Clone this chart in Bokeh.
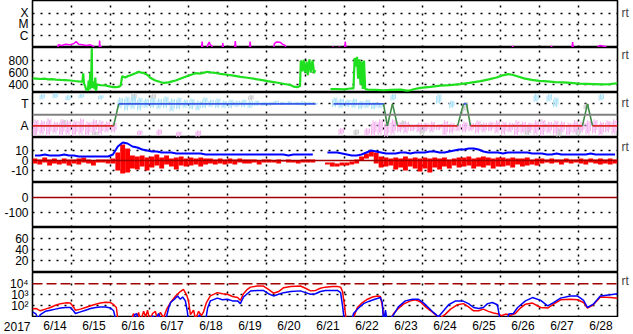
import numpy as np
from bokeh.plotting import figure
from bokeh.layouts import column
from bokeh.models import Range1d, FixedTicker, LinearAxis, Grid, Span
from bokeh.core.properties import value
from bokeh.embed import file_html
from bokeh.resources import INLINE

nan = float("nan")
FONT = "Liberation Sans"

# ---------------- x axis (days since 2017-06-14 00:00) ----------------
day_labels = ["6/14", "6/15", "6/16", "6/17", "6/18", "6/19", "6/20", "6/21",
              "6/22", "6/23", "6/24", "6/25", "6/26", "6/27", "6/28"]
year_label = "2017"
day_bounds = list(range(1, 15))

# ---------------- panel 1: X-ray class (log10 flux) ----------------
xray_ticks = [-6, -5, -4]
xray_labels = ["C", "M", "X"]
xray_t = [0.60, 0.64, 0.66, 0.75, 0.85, 0.95, 1.05, 1.12, 1.18, 1.28, 1.38, 1.48, 1.55, 1.60,
          1.71, 1.72, 1.73, 1.76, 1.77,
          4.33, 4.35, 4.37, 4.47, 4.49, 4.53, 4.56, 4.60, 4.62,
          4.86, 4.88, 4.90, 5.18, 5.20, 5.22, 5.56, 5.58, 5.60,
          6.18, 6.20, 6.25, 6.35, 6.42, 6.48, 6.50,
          7.68, 7.70, 7.75, 7.85, 7.87, 7.90, 8.00, 8.02, 8.04,
          12.29, 12.31, 12.33, 13.29, 13.31, 13.33, 13.83, 13.85, 13.86, 13.88,
          14.49, 14.51, 14.56, 14.62, 14.70, 14.72]
xray_v = [-7.3, -7.3, -6.85, -6.9, -6.8, -6.85, -6.75, -6.55, -6.8, -6.85, -6.9, -6.85, -6.95, -7.3,
          -7.3, -6.45, -7.0, -7.0, -7.3,
          -7.3, -6.55, -7.3, -7.3, -6.9, -6.6, -6.85, -6.95, -7.3,
          -7.3, -6.7, -7.3, -7.3, -6.5, -7.3, -7.3, -6.55, -7.3,
          -7.3, -6.75, -6.6, -6.62, -6.8, -6.9, -7.3,
          -7.3, -7.0, -7.3, -7.3, -7.0, -7.3, -7.3, -6.55, -7.3,
          -7.3, -6.95, -7.3, -7.3, -6.95, -7.3, -7.3, -6.6, -6.95, -7.3,
          -7.3, -6.95, -6.9, -6.95, -7.0, -7.3]

# ---------------- panel 2: solar wind speed ----------------
speed_ticks = [400, 600, 800]
speed_t = [0.00, 0.10, 0.20, 0.30, 0.40, 0.50, 0.60, 0.72, 0.85, 0.97, 1.08, 1.18, 1.28,
           1.30, 1.32, 1.35, 1.38, 1.40, 1.42, 1.44, 1.46, 1.48, 1.50, 1.52, 1.53, 1.55,
           1.57, 1.59, 1.61, 1.63, 1.65, 1.68, 1.74, 1.87, 2.00, 2.08, 2.13, 2.20, 2.26,
           2.30, 2.38, 2.45, 2.51, 2.58, 2.64, 2.72, 2.79, 2.85, 2.95, 3.03, 3.15, 3.28,
           3.36, 3.42, 3.49, 3.58, 3.67, 3.77, 3.87, 3.96, 4.05, 4.18, 4.31, 4.40, 4.49,
           4.56, 4.64, 4.73, 4.82, 5.00, 5.15, 5.33, 5.51, 5.67, 5.85, 6.03, 6.18, 6.36,
           6.54, 6.62, 6.69, 6.79, 6.86, 6.88, 6.92, 6.95, 6.99, 7.03, 7.06, 7.10, 7.14,
           7.18, 7.22, 7.25, 7.27, 7.64, 7.80, 8.00, 8.10, 8.20, 8.23, 8.26, 8.29, 8.32,
           8.35, 8.38, 8.41, 8.44, 8.47, 8.50, 8.53, 8.60, 8.80, 9.00, 9.20, 9.44, 9.60,
           9.69, 9.80, 9.95, 10.20, 10.46, 10.70, 10.97, 11.20, 11.49, 11.70, 11.90, 12.05,
           12.20, 12.30, 12.45, 12.60, 12.80, 13.00, 13.20, 13.40, 13.60, 13.80, 14.00,
           14.20, 14.40, 14.60, 14.80, 15.00]
speed_v = [505, 500, 495, 500, 490, 492, 485, 480, 478, 470, 462, 455, 450,
           590, 420, 380, 310, 330, 300, 470, 320, 600, 340, 1000, 400, 350,
           450, 330, 520, 300, 390, 400, 395, 390, 370, 362, 360, 365, 385,
           540, 520, 545, 555, 575, 590, 615, 600, 595, 560, 510, 470, 445,
           430, 435, 440, 455, 470, 495, 520, 540, 560, 590, 585, 600, 615,
           605, 600, 590, 580, 565, 550, 530, 515, 500, 480, 460, 445, 425,
           405, 395, 370, 360, 380, 800, 620, 810, 600, 780, 560, 820, 600,
           800, 590, 640, nan, 330, 330, 325, 335, 340, 340, 840, 700, 860,
           500, 820, 400, 780, 330, 800, 330, 320, 315, 310, 315, 320, 305,
           310, 330, 350, 365, 385, 395, 410, 430, 460, 490, 520, 555,
           575, 565, 535, 505, 480, 465, 455, 445, 440, 430, 420,
           415, 410, 405, 410, 425]

# ---------------- panel 3: IMF sector (T / A), 4-hour bins ----------------
sector_ticks = [1, -1]
sector_labels = ["T", "A"]
lb_lo = [nan, 1.4, nan, 1.5, nan, 1.3,
         nan, 1.5, nan, nan, 1.4, nan,
         nan, 0.6, 0.4, 0.5, 0.4, 0.6,
         0.6, 0.5, 0.6, 0.3, 0.5, 0.6,
         0.5, 0.4, 0.6, 0.7, 0.6, 0.6,
         0.6, 0.7, 0.7, 0.6, 0.8, 0.8,
         0.8, 0.9, 0.9, 0.9, 0.9, 0.85,
         0.9, 0.9, nan, nan, 0.7, 0.6,
         0.7, 0.6, 0.5, 0.6, 0.5, 0.6,
         nan, 1.3, nan, nan, nan, nan,
         nan, nan, 1.0, nan, 0.6, nan,
         nan, nan, nan, nan, nan, nan,
         nan, nan, nan, nan, nan, 1.2,
         nan, 1.2, 0.7, nan, nan, nan,
         nan, nan, nan, 1.3, nan, nan]
lb_hi = [nan, 1.9, nan, 2.0, nan, 1.8,
         nan, 1.9, nan, nan, 1.8, nan,
         nan, 1.6, 1.7, 1.8, 1.6, 1.5,
         1.6, 1.5, 1.7, 1.5, 1.6, 1.4,
         1.5, 1.3, 1.6, 1.4, 1.5, 1.3,
         1.4, 1.3, 1.4, 1.3, 1.3, 1.2,
         1.2, 1.3, 1.2, 1.25, 1.2, 1.25,
         1.2, 1.1, nan, nan, 1.6, 1.5,
         1.4, 1.5, 1.3, 1.4, 1.2, 1.1,
         nan, 1.9, nan, nan, nan, nan,
         nan, nan, 1.9, nan, 1.3, nan,
         nan, nan, nan, nan, nan, nan,
         nan, nan, nan, nan, nan, 1.9,
         nan, 1.9, 1.6, nan, nan, nan,
         nan, nan, nan, 1.9, nan, nan]
pk_lo = [-1.9, -1.8, -1.9, -1.7, -1.9, -1.8,
         -1.9, -1.8, -1.9, -1.7, -1.8, -1.6,
         -1.6, nan, nan, nan, -1.9, nan,
         nan, -1.9, nan, nan, -2.0, nan,
         nan, -2.0, nan, nan, nan, nan,
         nan, nan, nan, nan, nan, nan,
         nan, nan, nan, nan, nan, nan,
         nan, nan, nan, nan, nan, -1.8,
         nan, nan, nan, -1.9, -1.9, -1.8,
         -2.0, -1.8, -1.6, -1.7, -1.5, -1.6,
         -1.5, -1.6, -1.4, -1.9, -1.7, -1.5,
         -1.6, -1.5, -1.7, -1.6, -1.5, -1.7,
         -1.8, -1.6, -1.9, -1.7, -1.6, -1.8,
         -1.9, -1.7, -1.8, -1.6, -1.9, -1.7,
         -1.6, -1.8, -1.7, -1.9, -1.6, -1.8]
pk_hi = [-0.4, -0.5, -0.3, -0.6, -0.4, -0.5,
         -0.5, -0.3, -0.6, -0.4, -0.5, -0.6,
         -0.7, nan, nan, nan, -1.4, nan,
         nan, -1.3, nan, nan, -1.5, nan,
         nan, -1.4, nan, nan, nan, nan,
         nan, nan, nan, nan, nan, nan,
         nan, nan, nan, nan, nan, nan,
         nan, nan, nan, nan, nan, -1.2,
         nan, nan, nan, -1.2, -0.5, -0.4,
         -0.5, -0.4, -0.7, -0.6, -0.8, -0.7,
         -0.7, -0.6, -0.8, -0.5, -0.7, -0.8,
         -0.6, -0.7, -0.5, -0.7, -0.6, -0.5,
         -0.6, -0.7, -0.5, -0.6, -0.7, -0.5,
         -0.4, -0.6, -0.5, -0.6, -0.7, -0.5,
         -0.6, -0.5, -0.4, -0.6, -0.5, -0.4]
gray_t = [0.05, 0.80, 1.60, 2.60, 3.10, 5.60, 8.30, 9.50, 10.00, 11.10, 12.70, 13.50, 14.00, 14.20]
gray_lo = [-1.9, -1.2, -1.9, 1.3, 1.4, 1.3, -1.9, -1.2, -1.8, 0.3, -1.9, -2.0, -1.9, 0.5]
gray_hi = [-1.1, -0.4, -1.5, 2.0, 1.9, 1.8, -1.3, -0.5, -1.0, 1.2, -0.9, -1.2, -1.1, 1.0]
sec_t = [0.0, 2.08, 2.21, 7.26, 7.27, 7.72, 9.0, 9.1, 9.23, 9.36, 10.9, 11.05, 11.13, 11.23,
         14.1, 14.23, 14.36, 15.0]
sec_v = [-1, -1, 1, 1, nan, 1, 1, -1, 1, -1, -1, 1, 1, -1, -1, 1, -1, -1]

# ---------------- panel 4: IMF Bt / Bz, 3-hour bins ----------------
bz_ticks = [10, 0, -10]
bz_lo = [-3, -4, -2, -5, -3, -4, -3, -5,
         -3, -4, -2, -3, -5, -2, -2, -3,
         -3, -10, -13, -12, -8, -9, -6, -10,
         -7, -5, -8, -4, -6, -9, -5, -6,
         -5, -4, -6, -4, -3, -4, -3, -4,
         -3, -4, -2, -3, -3, -2, -4, -2,
         -2, -2, -3, -1, -2, -2, -3, -2,
         -2, -2, nan, nan, -4, -6, -6, -5,
         -5, -4, -3, 0, 2, 4, -3, -7,
         -6, -5, -9, -7, -10, -6, -8, -11,
         -8, -12, -7, -9, -6, -8, -5, -7,
         -6, -5, -8, -6, -7, -5, -8, -6,
         -6, -5, -7, -4, -6, -5, -4, -5,
         -3, -2, -3, -2, -4, -2, -3, -2,
         -3, -4, -2, -3, -4, -3, -4, -3]
bz_hi = [2, 1, 3, 1, 2, 0, 2, 1,
         1, 2, 3, 1, 0, 1, 1, 1,
         2, 8, 16, 12, 5, 4, 5, 3,
         4, 6, 3, 5, 2, 3, 4, 2,
         3, 2, 3, 2, 2, 1, 2, 1,
         2, 1, 2, 1, 1, 1, 0, 1,
         1, 0, 1, 0, 1, 0, 0, 1,
         1, 1, nan, nan, -2, -2, -3, -2,
         -2, -1, 1, 4, 7, 10, 8, 4,
         3, 2, 3, 2, 4, 2, 3, 2,
         3, 2, 3, 2, 3, 1, 2, 3,
         3, 4, 2, 3, 4, 3, 2, 3,
         3, 2, 3, 2, 2, 3, 1, 2,
         2, 1, 2, 1, 1, 2, 1, 1,
         2, 1, 2, 1, 2, 1, 2, 1]
bt = [5, 5, 6, 5, 5, 5, 6, 5,
      5, 4, 4, 4, 4, 4, 4, 4,
      6, 14, 18, 17, 14, 13, 11, 10,
      9, 9, 8, 8, 8, 7, 7, 7,
      7, 7, 7, 6, 6, 6, 6, 6,
      6, 6, 6, 6, 6, 6, 6, 6,
      6, 6, 6, 6, 5, 6, 6, 6,
      6, 6, nan, nan, 8, 8, 8, 7,
      6, 5, 5, 6, 8, 10, 9, 8,
      7, 7, 7, 8, 8, 7, 8, 8,
      8, 9, 9, 8, 8, 9, 10, 11,
      11, 12, 12, 11, 9, 8, 8, 8,
      7, 8, 8, 8, 8, 8, 7, 7,
      7, 6, 6, 7, 6, 6, 6, 6,
      6, 6, 7, 6, 6, 6, 6, 6]

# ---------------- panel 5 / 6: empty panels ----------------
p5_ticks = [0, -100]
p6_ticks = [60, 40, 20]

# ---------------- panel 7: particle flux (log10) ----------------
flux_ticks = [4, 3, 2]
flux_labels = ["10\u2074", "10\u00b3", "10\u00b2"]
flux_threshold = 4
red_t = [0.00, 0.10, 0.20, 0.33, 0.46, 0.59, 0.72, 0.85, 0.97, 1.05, 1.10, 1.23, 1.36, 1.49,
         1.62, 1.74, 1.87, 2.00, 2.08, 2.15, 2.20, 2.51, 2.59, 2.64, 2.72, 2.77, 2.85, 2.90,
         2.95, 3.00, 3.08, 3.15, 3.20, 3.28, 3.36, 3.44, 3.54, 3.67, 3.79, 3.87, 3.95, 4.00,
         4.05, 4.13, 4.18, 4.26, 4.33, 4.38, 4.46, 4.56, 4.74, 4.87, 5.00, 5.13, 5.26, 5.33,
         5.41, 5.51, 5.59, 5.77, 5.92, 6.05, 6.18, 6.31, 6.44, 6.62, 6.87, 7.00, 7.13, 7.26,
         7.38, 7.51, 7.69, 7.82, 7.90, 7.95, 8.00, 8.05, 8.21, 8.26, 8.33, 8.46, 8.59, 8.72,
         8.85, 8.92, 8.97, 9.03, 9.18, 9.26, 9.36, 9.51, 9.69, 9.82, 9.95, 10.08, 10.21,
         10.33, 10.46, 10.59, 10.72, 10.90, 11.05, 11.18, 11.31, 11.44, 11.56, 11.69, 11.82,
         11.95, 12.03, 12.13, 12.26, 12.38, 12.51, 12.64, 12.82, 13.03, 13.21, 13.36, 13.54,
         13.79, 13.97, 14.13, 14.23, 14.38, 14.56, 14.82, 15.00]
red_v = [1.73, 1.75, 1.55, 1.70, 1.85, 2.05, 2.20, 2.27, 2.25, 1.90, 1.60, 1.70, 1.85, 2.00,
         2.15, 2.25, 2.33, 2.30, 2.10, 1.85, 0.50, 0.50, 1.30, 0.60, 1.40, 0.60, 1.50, 1.00,
         1.60, 0.70, 1.30, 1.50, 0.80, 1.40, 0.90, 1.70, 2.30, 2.90, 3.30, 3.50, 3.00, 2.45,
         1.20, 1.60, 0.80, 1.50, 1.10, 1.40, 2.30, 2.90, 3.20, 3.10, 3.05, 2.85, 2.75, 2.50,
         3.10, 3.50, 3.70, 3.80, 3.80, 3.50, 3.15, 3.30, 3.65, 3.75, 3.80, 3.60, 3.36, 3.40,
         3.60, 3.70, 3.75, 3.75, 3.70, 3.30, 2.00, 0.50, 0.60, 1.20, 1.85, 2.30, 2.60, 2.80,
         2.90, 2.85, 2.00, 0.50, 0.80, 1.30, 1.70, 2.15, 2.45, 2.55, 2.35, 1.90, 1.55,
         1.20, 0.90, 1.25, 1.70, 2.10, 2.20, 1.90, 1.55, 1.55, 1.70, 1.50, 1.35,
         1.25, 1.10, 1.25, 1.15, 1.30, 1.80, 2.15, 2.25, 1.85, 1.80, 2.15, 2.55,
         2.60, 2.55, 2.30, 1.80, 2.10, 2.80, 2.75, 2.70]
blue_t = [0.00, 0.08, 0.15, 0.20, 0.33, 0.46, 0.59, 0.72, 0.85, 0.97, 1.05, 1.10, 1.23, 1.36,
          1.49, 1.62, 1.74, 1.87, 2.00, 2.08, 2.15, 2.59, 2.62, 2.67, 2.72, 3.03, 3.08, 3.15,
          3.23, 3.31, 3.41, 3.49, 3.54, 3.64, 3.72, 3.79, 3.85, 3.92, 3.97, 4.00, 4.23, 4.28,
          4.33, 4.44, 4.49, 4.56, 4.74, 4.87, 5.00, 5.13, 5.26, 5.33, 5.41, 5.59, 5.77, 5.92,
          6.05, 6.18, 6.31, 6.44, 6.62, 6.87, 7.00, 7.13, 7.26, 7.38, 7.51, 7.69, 7.82, 7.90,
          7.95, 8.00, 8.18, 8.23, 8.36, 8.49, 8.62, 8.74, 8.92, 8.97, 9.00, 9.05, 9.10, 9.26,
          9.38, 9.56, 9.74, 9.90, 10.03, 10.15, 10.28, 10.41, 10.54, 10.67, 10.85, 11.03,
          11.18, 11.31, 11.44, 11.56, 11.67, 11.79, 11.92, 12.00, 12.15, 12.21, 12.33, 12.44,
          12.64, 12.82, 13.03, 13.21, 13.36, 13.54, 13.79, 13.97, 14.13, 14.23, 14.38, 14.56,
          14.82, 15.00]
blue_v = [1.45, 1.30, 0.80, 1.20, 1.50, 1.60, 1.70, 1.80, 1.85, 1.85, 1.55, 1.30, 1.45, 1.60,
          1.75, 1.85, 1.90, 1.90, 1.80, 1.55, 0.50, 0.50, 1.20, 1.30, 0.50, 0.50, 1.10, 0.60,
          1.30, 0.50, 0.60, 1.80, 2.30, 2.60, 2.90, 2.60, 2.80, 2.45, 1.50, 0.50, 0.50, 1.20,
          0.60, 0.70, 1.80, 2.45, 2.70, 2.55, 2.60, 2.45, 2.45, 2.20, 2.80, 3.35, 3.40, 3.40,
          3.10, 2.90, 3.05, 3.20, 3.30, 3.36, 3.20, 3.06, 3.10, 3.30, 3.40, 3.40, 3.40, 3.20,
          2.00, 0.50, 0.50, 1.30, 1.80, 2.20, 2.40, 2.55, 2.75, 2.30, 0.50, 1.60, 0.50, 1.20,
          1.90, 2.45, 2.60, 2.60, 2.25, 1.85, 1.40, 1.00, 1.55, 2.10, 2.45, 2.45,
          2.20, 1.85, 1.75, 1.85, 2.20, 2.30, 2.10, 0.50, 0.50, 1.25, 1.30, 1.85,
          2.45, 2.75, 2.50, 2.00, 2.30, 2.70, 2.90, 2.90, 2.50, 1.85, 2.15, 2.90,
          3.00, 3.10]

# ---------------- styling ----------------
GREEN = "#1ee01e"
MAGENTA = "#ff00ff"
LIGHTBLUE = "#aee3f7"
PINK = "#f6b6f0"
GRAYPT = "#cccccc"
SEC_BLUE = "#3a5ae8"
SEC_RED = "#e02828"
SEC_GREEN = "#3f8a45"
DKRED = "#a00000"
GRID_KW = dict(grid_line_color="black", grid_line_dash="2 6", grid_line_width=1.5)
LEFT_PX, RIGHT_PX = 32, 16

X_RANGE = Range1d(0, 15)


def style_left_axis(ax, ticks, labels, standoff=4):
    ax.ticker = FixedTicker(ticks=ticks)
    ax.major_label_overrides = dict(zip(ticks, labels))
    ax.axis_line_color = None
    ax.major_tick_line_color = None
    ax.minor_tick_line_color = None
    ax.major_tick_out = 0
    ax.major_label_standoff = standoff
    ax.major_label_text_font = FONT
    ax.major_label_text_font_size = "12px"
    ax.major_label_text_color = "black"


def make_panel(fh, y0, y1, ticks, labels, grid_ticks, rt=None):
    p = figure(frame_width=585, frame_height=fh, x_range=X_RANGE, y_range=Range1d(y0, y1),
               output_backend="svg", toolbar_location=None, x_axis_location=None,
               min_border_left=LEFT_PX, min_border_right=RIGHT_PX, min_border_top=0,
               min_border_bottom=0,
               outline_line_color="black", outline_line_width=1.6,
               background_fill_color="white", border_fill_color="white")
    p.grid.visible = False
    style_left_axis(p.yaxis[0], ticks, labels)
    p.add_layout(Grid(dimension=0, ticker=FixedTicker(ticks=day_bounds), **GRID_KW))
    if grid_ticks:
        p.add_layout(Grid(dimension=1, ticker=FixedTicker(ticks=grid_ticks), **GRID_KW))
    if rt is not None:
        rax = LinearAxis(ticker=FixedTicker(ticks=[rt]), major_label_overrides={rt: "rt"},
                         axis_line_color=None, major_tick_line_color=None,
                         minor_tick_line_color=None, major_tick_out=0,
                         major_label_standoff=4, major_label_text_font=FONT,
                         major_label_text_font_size="12px")
        p.add_layout(rax, "right")
    return p


def textured_bars(p, t, lo, hi, color, alpha):
    # draw each bin as a few thin strokes over sub-spans of its range (speckled look)
    lo = np.asarray(lo, dtype=float)
    hi = np.asarray(hi, dtype=float)
    span = hi - lo
    for off, f0, f1 in [(-0.055, 0.0, 0.8), (-0.018, 0.12, 1.0), (0.018, 0.0, 0.9), (0.055, 0.25, 0.95)]:
        p.vbar(x=np.asarray(t) + off, bottom=lo + f0 * span, top=lo + f1 * span, width=0.03,
               fill_color=color, fill_alpha=alpha, line_color=None)


# panel 1
p1 = make_panel(47, -7.09, -2.82, xray_ticks, xray_labels, xray_ticks, rt=-3.95)
p1.line(xray_t, xray_v, line_color=MAGENTA, line_width=1.5)

# panel 2
p2 = make_panel(45, 273, 1013, speed_ticks, [str(v) for v in speed_ticks], speed_ticks, rt=898)
p2.line(speed_t, speed_v, line_color=GREEN, line_width=2.2)

# panel 3
p3 = make_panel(45, -2.06, 2.03, sector_ticks, sector_labels, sector_ticks, rt=1.1)
t4 = np.arange(len(lb_lo)) / 6.0 + 1.0 / 12.0
textured_bars(p3, gray_t, gray_lo, gray_hi, GRAYPT, 1.0)
textured_bars(p3, t4, pk_lo, pk_hi, PINK, 1.0)
textured_bars(p3, t4, lb_lo, lb_hi, LIGHTBLUE, 1.0)
p3.add_layout(Span(location=0, dimension="width", line_color="#808080", line_width=2))
sx0, sy0, sx1, sy1, scol = [], [], [], [], []
for i in range(len(sec_t) - 1):
    a, b = sec_v[i], sec_v[i + 1]
    if np.isnan(a) or np.isnan(b):
        continue
    sx0.append(sec_t[i]); sy0.append(a); sx1.append(sec_t[i + 1]); sy1.append(b)
    scol.append(SEC_BLUE if (a == 1 and b == 1) else SEC_RED if (a == -1 and b == -1) else SEC_GREEN)
p3.segment(x0=sx0, y0=sy0, x1=sx1, y1=sy1, line_color=scol, line_width=1.6)

# panel 4
p4 = make_panel(45, -22, 23, bz_ticks, [str(v) for v in bz_ticks], [10, -10], rt=14)
t3 = np.arange(len(bz_lo)) / 8.0 + 1.0 / 16.0
p4.vbar(x=t3, bottom=bz_lo, top=bz_hi, width=0.125, fill_color="#ff0000", line_color=None)
p4.add_layout(Span(location=0, dimension="width", line_color=DKRED, line_width=1.5))
p4.line(t3, bt, line_color="#0000ff", line_width=2)

# panel 5
p5 = make_panel(45, -200, 100, p5_ticks, [str(v) for v in p5_ticks], [-100])
p5.add_layout(Span(location=0, dimension="width", line_color=DKRED, line_width=1.5))

# panel 6
p6 = make_panel(45, -1.3, 80.5, p6_ticks, [str(v) for v in p6_ticks], p6_ticks)

# panel 7
p7 = make_panel(45, 0.94, 5.03, flux_ticks, flux_labels, [3, 2], rt=4.3)
p7.add_layout(Span(location=flux_threshold, dimension="width", line_color=DKRED,
                   line_width=1.5, line_dash="10 4"))
p7.line(red_t, red_v, line_color="#ff0000", line_width=1.5)
p7.line(blue_t, blue_v, line_color="#0000ff", line_width=1.5)

# date strip below the panels: same day scale; the year sits in its left axis
strip = figure(frame_width=585, frame_height=17, output_backend="svg", toolbar_location=None,
               x_range=X_RANGE, y_range=Range1d(0, 1), x_axis_location=None,
               min_border_left=LEFT_PX, min_border_right=RIGHT_PX, min_border_top=0,
               min_border_bottom=0, outline_line_color=None,
               background_fill_color="white", border_fill_color="white")
strip.grid.visible = False
style_left_axis(strip.yaxis[0], [0.5], [year_label], standoff=2)
label_pos = [i + 0.575 for i in range(len(day_labels))]
strip.text(x=label_pos, y=0.5, text=day_labels, text_align="center", text_baseline="middle",
           text_font=value(FONT), text_font_size="12px", text_color="black")

layout = column(p1, p2, p3, p4, p5, p6, p7, strip, spacing=0)
open("out.html", "w").write(file_html(layout, INLINE))
